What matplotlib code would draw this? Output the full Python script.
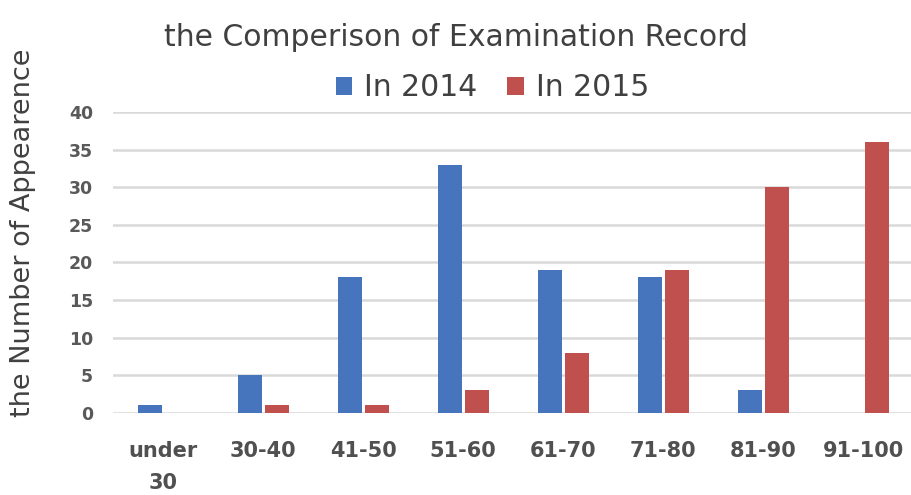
import matplotlib
matplotlib.use("Agg")
import matplotlib.pyplot as plt
import numpy as np

categories = ["under\n30", "30-40", "41-50", "51-60", "61-70", "71-80", "81-90", "91-100"]
values_2014 = [1, 5, 18, 33, 19, 18, 3, 0]
values_2015 = [0, 1, 1, 3, 8, 19, 30, 36]
series_names = ["In 2014", "In 2015"]
y_ticks = [0, 5, 10, 15, 20, 25, 30, 35, 40]

blue = "#4675BE"
red = "#C0504D"
txt = "#404040"

plt.rcParams['font.family'] = ['DejaVu Sans']

fig = plt.figure(figsize=(9.12, 4.95), dpi=100)
ax = fig.add_axes([0.124, 0.1657, 0.876, 0.6083])

x = np.arange(len(categories))
w = 0.24
ax.bar(x - 0.135, values_2014, width=w, color=blue, label=series_names[0], zorder=3)
ax.bar(x + 0.135, values_2015, width=w, color=red, label=series_names[1], zorder=3)

ax.set_xlim(-0.5, 7.49)
ax.set_ylim(0, 40)
ax.set_yticks(y_ticks)
ax.set_yticklabels([str(t) for t in y_ticks], fontsize=12.5, fontweight='bold', color="#595959")
ax.set_xticks(x)
ax.set_xticklabels(categories, fontsize=15, fontweight='bold', color="#505050", linespacing=1.7)
ax.tick_params(axis='both', length=0)
ax.tick_params(axis='y', pad=14.5)
ax.tick_params(axis='x', pad=20.5)

ax.grid(axis='y', color="#d9d9d9", linewidth=1.8, zorder=0)
for s in ax.spines.values():
    s.set_visible(False)

fig.text(0.5, 1 - 37 / 495, "the Comperison of Examination Record", ha='center', va='center',
         fontsize=21.5, color=txt)
fig.legend(loc='center', bbox_to_anchor=(0.54, 1 - 88 / 495), ncol=2, frameon=False,
           fontsize=21.5, handlelength=0.55, handleheight=0.55, handletextpad=0.4, columnspacing=1.0,
           labelcolor=txt)
fig.text(23 / 912, 1 - 233 / 495, "the Number of Appearence", rotation=90, ha='center', va='center',
         fontsize=19.5, color=txt)

fig.savefig("out.png", dpi=100)
